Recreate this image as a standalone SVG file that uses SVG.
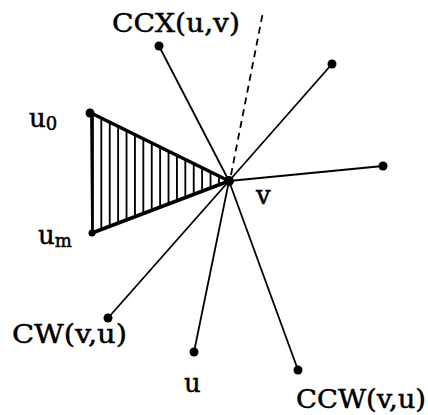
<svg xmlns="http://www.w3.org/2000/svg" width="428" height="415" viewBox="0 0 428 415">
<style>
.sp{stroke:#000;stroke-width:1.8;fill:none}
.th{stroke:#000;stroke-width:3.6;fill:none;stroke-linecap:round}
.dot{fill:#000}
text{font-family:"DejaVu Serif","Liberation Serif",serif;font-size:26px;fill:#000;stroke:#000;stroke-width:0.5}
.sub{font-size:18px}
</style>
<defs>
<pattern id="hatch" patternUnits="userSpaceOnUse" x="92" y="0" width="8.4" height="20">
<line x1="0.9" y1="0" x2="0.9" y2="20" stroke="#000" stroke-width="1.9"/>
</pattern>
</defs>
<rect width="428" height="415" fill="#fff"/>
<g id="connectors">
<line class="sp" x1="229" y1="181" x2="159" y2="46"/>
<line class="sp" x1="229" y1="181" x2="332" y2="64"/>
<line class="sp" x1="229" y1="181" x2="383" y2="166"/>
<line class="sp" x1="229" y1="181" x2="108" y2="318"/>
<line class="sp" x1="229" y1="181" x2="194" y2="352"/>
<line class="sp" x1="229" y1="181" x2="298" y2="370"/>
<line class="sp" x1="231" y1="175" x2="263" y2="12" stroke-dasharray="7,5"/>
</g>
<g id="wedge">
<polygon points="91,113 229,181 92,233" fill="url(#hatch)"/>
<line class="sp" x1="91" y1="113" x2="92" y2="233"/>
<line class="th" x1="91" y1="113" x2="229" y2="181"/>
<line class="th" x1="92" y1="233" x2="229" y2="181"/>
</g>
<g id="v"><circle class="dot" cx="229" cy="181" r="5"/><text x="256" y="204">v</text></g>
<g id="ccx"><circle class="dot" cx="159" cy="46" r="4.5"/><text x="112" y="32" textLength="128" lengthAdjust="spacingAndGlyphs">CCX(u,v)</text></g>
<g id="ur"><circle class="dot" cx="332" cy="64" r="4.5"/></g>
<g id="r"><circle class="dot" cx="383" cy="166" r="4.5"/></g>
<g id="u0"><circle class="dot" cx="90" cy="113" r="4.5"/><text x="29" y="127">u<tspan class="sub" dy="3">0</tspan></text></g>
<g id="um"><circle class="dot" cx="92" cy="233" r="3.5"/><text x="38" y="244">u<tspan class="sub" dy="3">m</tspan></text></g>
<g id="cw"><circle class="dot" cx="108" cy="318" r="4.5"/><text x="12" y="343" textLength="115" lengthAdjust="spacingAndGlyphs">CW(v,u)</text></g>
<g id="u"><circle class="dot" cx="194" cy="352" r="4.5"/><text x="184" y="392">u</text></g>
<g id="ccw"><circle class="dot" cx="298" cy="370" r="4.5"/><text x="296" y="408" textLength="130" lengthAdjust="spacingAndGlyphs">CCW(v,u)</text></g>
</svg>
